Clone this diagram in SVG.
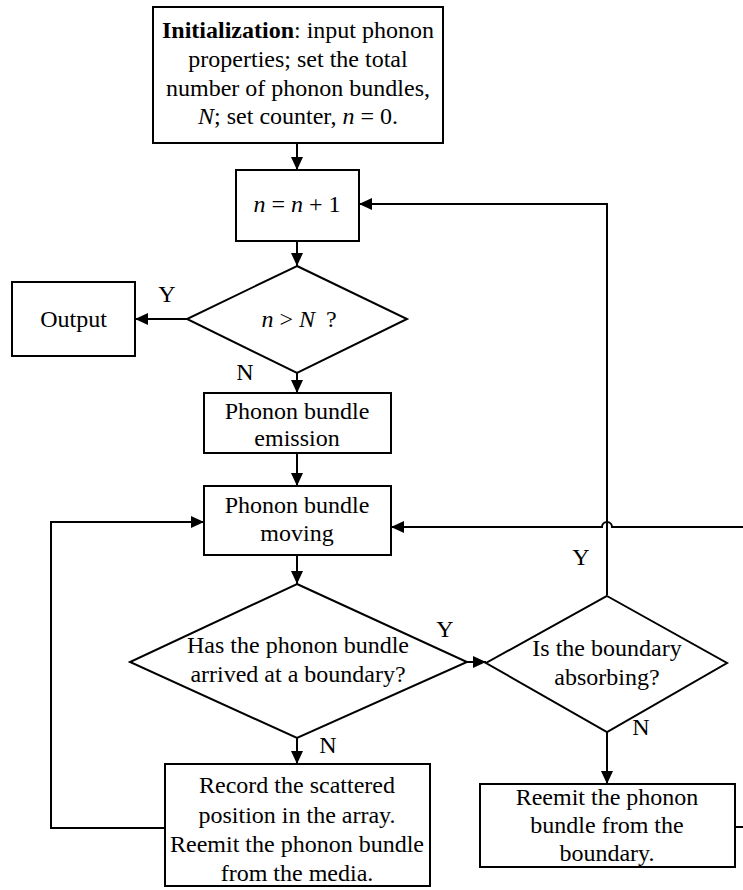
<svg xmlns="http://www.w3.org/2000/svg" width="743" height="890" viewBox="0 0 743 890">
<defs>
<style>
.box{fill:#fff;stroke:#000;stroke-width:2}
.ln{fill:none;stroke:#000;stroke-width:2}
text{font-family:"Liberation Serif","Times New Roman",serif;font-size:24px;fill:#000;text-anchor:middle}
.i{font-style:italic}
.b{font-weight:bold}
</style>
<marker id="ah" markerUnits="userSpaceOnUse" markerWidth="13" markerHeight="12" refX="13" refY="6" orient="auto">
<path d="M0,0 L13,6 L0,12 z" fill="#000"/>
</marker>
</defs>
<rect width="743" height="890" fill="#fff"/>

<g id="connectors">
<line class="ln" x1="297" y1="143" x2="297" y2="170" marker-end="url(#ah)"/>
<line class="ln" x1="297" y1="241" x2="297" y2="266" marker-end="url(#ah)"/>
<line class="ln" x1="187" y1="319" x2="135" y2="319" marker-end="url(#ah)"/>
<line class="ln" x1="297" y1="373" x2="297" y2="393" marker-end="url(#ah)"/>
<line class="ln" x1="297" y1="453" x2="297" y2="486" marker-end="url(#ah)"/>
<line class="ln" x1="297" y1="555" x2="297" y2="584" marker-end="url(#ah)"/>
<line class="ln" x1="467" y1="662" x2="486" y2="662" marker-end="url(#ah)"/>
<line class="ln" x1="297" y1="738" x2="297" y2="764" marker-end="url(#ah)"/>
<line class="ln" x1="607" y1="732" x2="607" y2="784" marker-end="url(#ah)"/>
<path class="ln" d="M607,595 L607,204 L359,204" marker-end="url(#ah)"/>
<path class="ln" d="M165,828 L51,828 L51,522 L204,522" marker-end="url(#ah)"/>
<path class="ln" d="M743,527 L612,527 A5,5 0 0 0 602,527 L391,527" marker-end="url(#ah)"/>
<line class="ln" x1="735" y1="827" x2="743" y2="827"/>
</g>

<g id="init">
<rect class="box" x="153" y="7" width="290" height="136"/>
<text x="298" y="38"><tspan class="b">Initialization</tspan>: input phonon</text>
<text x="298" y="67">properties; set the total</text>
<text x="298" y="96">number of phonon bundles,</text>
<text x="298" y="124"><tspan class="i">N</tspan>; set counter, <tspan class="i">n</tspan> = 0.</text>
</g>

<g id="increment">
<rect class="box" x="236" y="170" width="123" height="71"/>
<text x="297" y="212"><tspan class="i">n</tspan> = <tspan class="i">n</tspan> + 1</text>
</g>

<g id="check">
<polygon class="box" points="297,266 407,319 297,373 187,319"/>
<text x="299" y="327"><tspan class="i">n</tspan> &gt; <tspan class="i">N</tspan><tspan dx="11">?</tspan></text>
<text x="167" y="302">Y</text>
<text x="245" y="380">N</text>
</g>

<g id="output">
<rect class="box" x="12" y="282" width="123" height="74"/>
<text x="73.5" y="327">Output</text>
</g>

<g id="emission">
<rect class="box" x="204" y="393" width="187" height="60"/>
<text x="297" y="419">Phonon bundle</text>
<text x="297" y="446">emission</text>
</g>

<g id="moving">
<rect class="box" x="204" y="486" width="187" height="69"/>
<text x="297" y="513">Phonon bundle</text>
<text x="297" y="541">moving</text>
</g>

<g id="arrived">
<polygon class="box" points="297,584 467,662 297,738 130,662"/>
<text x="298" y="653">Has the phonon bundle</text>
<text x="298" y="682">arrived at a boundary?</text>
<text x="445" y="637">Y</text>
<text x="328" y="753">N</text>
</g>

<g id="absorbing">
<polygon class="box" points="607,596 727,663 607,732 486,663"/>
<text x="607" y="656">Is the boundary</text>
<text x="607" y="685">absorbing?</text>
<text x="581" y="565">Y</text>
<text x="641" y="735">N</text>
</g>

<g id="record">
<rect class="box" x="165" y="764" width="265" height="122"/>
<text x="297" y="793">Record the scattered</text>
<text x="297" y="823">position in the array.</text>
<text x="297" y="852">Reemit the phonon bundle</text>
<text x="297" y="881">from the media.</text>
</g>

<g id="reemit">
<rect class="box" x="480" y="784" width="255" height="83"/>
<text x="607" y="805">Reemit the phonon</text>
<text x="607" y="833">bundle from the</text>
<text x="607" y="861">boundary.</text>
</g>
</svg>
